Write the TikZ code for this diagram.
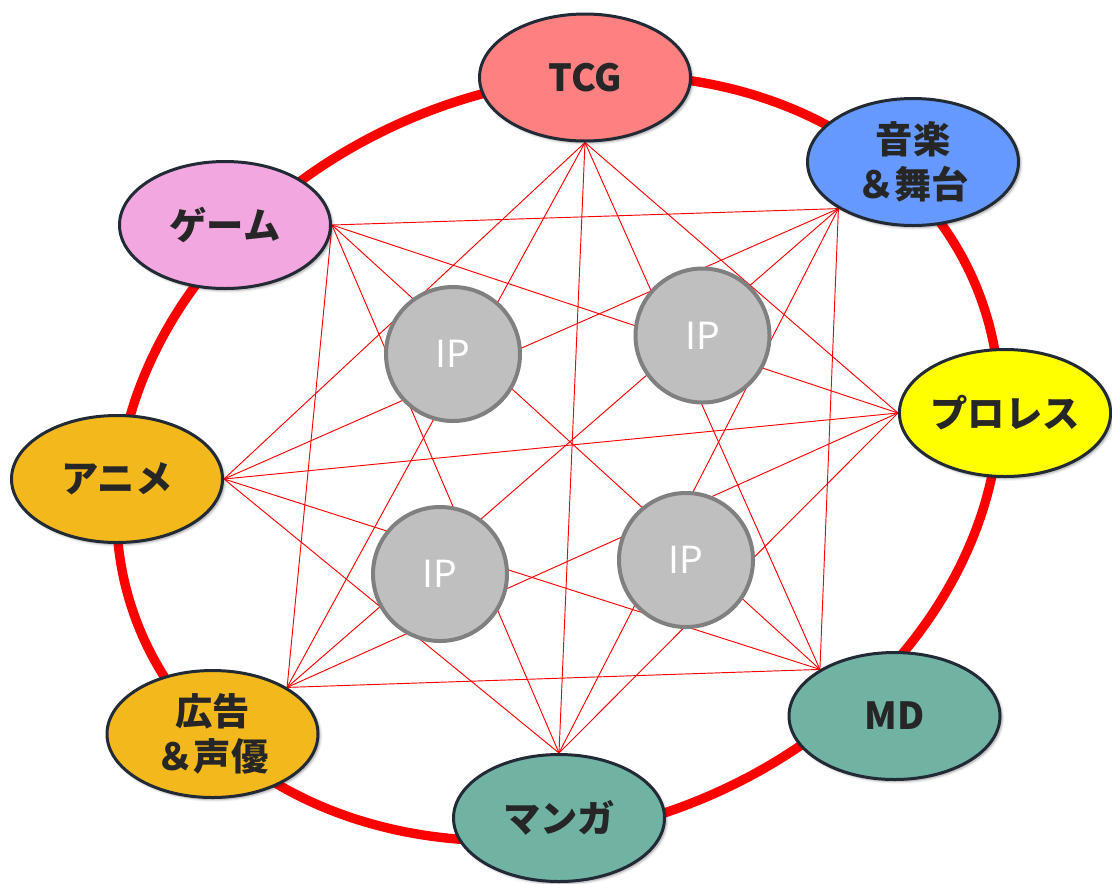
\documentclass[tikz,border=0pt]{standalone}
\usepackage{fontspec}
\newfontfamily\jp{Noto Sans CJK JP}
\usetikzlibrary{shapes.geometric,shadows.blur,backgrounds}
\definecolor{ringred}{HTML}{FF0000}
\definecolor{outline}{HTML}{222A35}
\definecolor{cTCG}{HTML}{FF8080}
\definecolor{cMusic}{HTML}{6699FF}
\definecolor{cPro}{HTML}{FFFF00}
\definecolor{cTeal}{HTML}{71B3A2}
\definecolor{cGold}{HTML}{F3B81C}
\definecolor{cPink}{HTML}{F2A7E0}
\definecolor{ipfill}{HTML}{BFBFBF}
\definecolor{ipline}{HTML}{808080}
\definecolor{txt}{HTML}{262626}
\begin{document}
\begin{tikzpicture}[x=0.75pt,y=-0.75pt,
  genre/.style={ellipse, draw=outline, line width=2.25pt,
    minimum width=158.25pt, minimum height=95.25pt, inner sep=0pt,
    text=txt, align=center,
    font=\jp\bfseries\fontsize{28}{34}\selectfont,
    blur shadow={shadow xshift=1.5pt, shadow yshift=-1.5pt,
      shadow blur radius=2pt, shadow opacity=40}},
  ip/.style={circle, draw=ipline, fill=ipfill, line width=3pt,
    minimum size=100.5pt, inner sep=0pt, text=white,
    font=\jp\fontsize{28}{30}\selectfont},
  link/.style={draw=ringred, line width=0.7pt},
  ring/.style={draw=ringred, line width=7pt}]
\useasboundingbox (0,0) rectangle (1112,883);

% genre ellipses
\node[genre, fill=cTCG]   (tcg)   at (585,77.5) {TCG};
\node[genre, fill=cMusic] (music) at (913,162)  {音楽\\＆舞台};
\node[genre, fill=cPro]   (pro)   at (1005,413) {プロレス};
\node[genre, fill=cTeal]  (md)    at (894.5,716) {MD};
\node[genre, fill=cTeal]  (manga) at (559,818)  {マンガ};
\node[genre, fill=cGold]  (ad)    at (212.5,734) {広告\\＆声優};
\node[genre, fill=cGold]  (anime) at (117,479)  {アニメ};
\node[genre, fill=cPink]  (game)  at (225,225)  {ゲーム};

\begin{scope}[on background layer]
  \draw[ring, rotate around={22:(558,458)}] (558,458) ellipse [x radius=452, y radius=370];
  % connection points
  \coordinate (pT) at (tcg.south);
  \coordinate (pM) at (music.212);
  \coordinate (pP) at (pro.west);
  \coordinate (pD) at (md.148);
  \coordinate (pG) at (manga.north);
  \coordinate (pA) at (ad.32);
  \coordinate (pN) at (anime.east);
  \coordinate (pS) at (game.east);
  \foreach \a/\b in {pT/pN, pT/pA, pT/pG, pT/pD, pT/pP,
                     pM/pS, pM/pN, pM/pA, pM/pG, pM/pD,
                     pP/pS, pP/pN, pP/pA, pP/pG,
                     pD/pS, pD/pN, pD/pA,
                     pG/pS, pG/pN,
                     pA/pS}
    \draw[link] (\a) -- (\b);
\end{scope}

% IP circles
\node[ip] (ip1) at (453,354) {IP};
\node[ip] (ip2) at (702.5,335.5) {IP};
\node[ip] (ip3) at (440,574) {IP};
\node[ip] (ip4) at (686,560) {IP};
\end{tikzpicture}
\end{document}
